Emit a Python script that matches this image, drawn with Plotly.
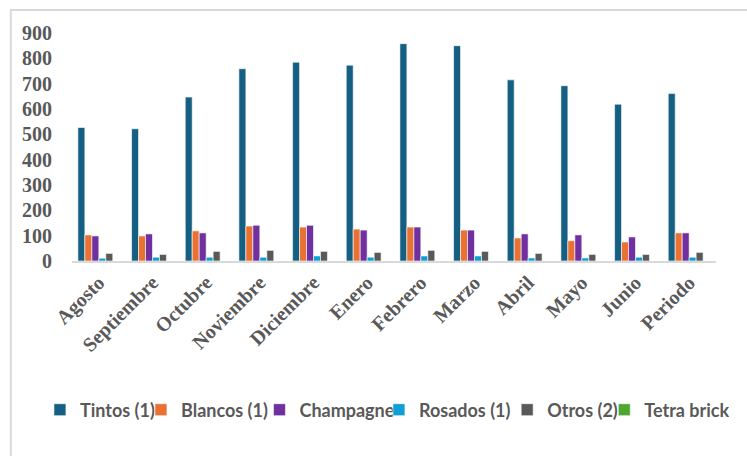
import plotly.graph_objects as go

months = ["Agosto", "Septiembre", "Octubre", "Noviembre", "Diciembre", "Enero",
          "Febrero", "Marzo", "Abril", "Mayo", "Junio", "Periodo"]

tintos = [527, 522, 647, 759, 785, 773, 858, 850, 715, 692, 619, 661]
blancos = [103, 99, 119, 138, 134, 126, 134, 122, 91, 80, 75, 111]
champagne = [99, 107, 111, 141, 141, 122, 134, 122, 107, 103, 95, 111]
rosados = [11, 15, 15, 15, 20, 15, 20, 20, 12, 12, 15, 15]
otros = [30, 26, 38, 42, 38, 34, 42, 38, 30, 26, 26, 34]
tetra = [0, 0, 0, 0, 0, 0, 0, 0, 0, 0, 0, 0]

series_names = ["Tintos (1)", "Blancos (1)", "Champagne", "Rosados (1)", "Otros (2)", "Tetra brick"]
series_values = [tintos, blancos, champagne, rosados, otros, tetra]
colors = ["#156082", "#E97132", "#7030A0", "#0F9ED5", "#595959", "#4EA72E"]

# plot area in pixels
L, R, T, B = 72, 735, 33, 261
W, H = 747, 456
pw, ph = R - L, B - T

def px_x(p):
    return (p - L) / pw

def px_y(p):
    return (B - p) / ph

legend_text_start = [79, 183, 305, 428, 560, 660]

fig = go.Figure()
for i, (name, vals, col) in enumerate(zip(series_names, series_values, colors)):
    lg = "legend" if i == 0 else f"legend{i+1}"
    fig.add_trace(go.Bar(
        x=months, y=vals, name=name,
        marker=dict(color=col, line=dict(color="rgba(255,255,255,0.75)", width=0.8)),
        legend=lg,
    ))

legend_font = dict(family="Lato", size=18, color="#595959", weight="bold")
legends = {}
for i, ts in enumerate(legend_text_start):
    key = "legend" if i == 0 else f"legend{i+1}"
    legends[key] = dict(
        x=px_x(ts - 40), xanchor="left", xref="paper",
        y=px_y(410), yanchor="middle", yref="paper",
        orientation="h", font=legend_font, bgcolor="rgba(0,0,0,0)",
        borderwidth=0, itemwidth=30,
    )

serif = "'Liberation Serif', 'Times New Roman', 'DejaVu Serif', serif"
tick_font = dict(family=serif, size=20, color="#595959", weight="bold")

fig.update_layout(
    width=W, height=H, autosize=False,
    margin=dict(l=L, r=W - R, t=T, b=H - B, pad=0),
    paper_bgcolor="white", plot_bgcolor="white",
    barmode="group", bargap=0.22, bargroupgap=0,
    showlegend=True,
    **legends,
    xaxis=dict(
        showgrid=False, zeroline=False, showline=True, linecolor="#d9d9d9", linewidth=2,
        tickangle=-45, ticks="", tickfont=tick_font,
    ),
    yaxis=dict(
        range=[0, 900], dtick=100, showgrid=False, zeroline=False, showline=False,
        ticks="outside", ticklen=15, tickcolor="rgba(0,0,0,0)", tickfont=tick_font,
    ),
    shapes=[
        dict(type="rect", xref="paper", yref="paper",
             x0=px_x(9), x1=px_x(770), y0=px_y(480), y1=px_y(10),
             line=dict(color="#d9d9d9", width=2), fillcolor="rgba(0,0,0,0)", layer="below"),
    ],
)

fig.write_html("out.html")
